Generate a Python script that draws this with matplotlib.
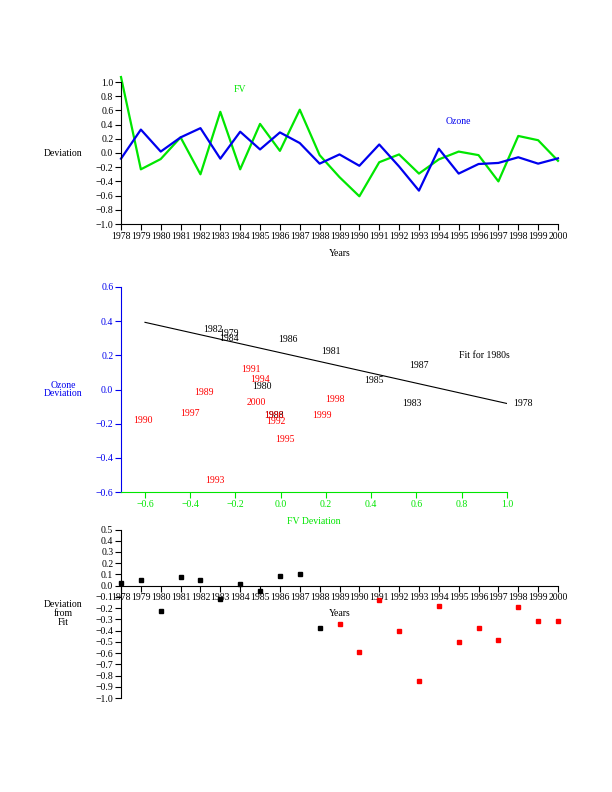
import matplotlib
matplotlib.use("Agg")
import matplotlib.pyplot as plt

plt.rcParams['font.family'] = ['Liberation Serif', 'DejaVu Serif']
plt.rcParams['axes.unicode_minus'] = True

# ---- data ----
years = list(range(1978, 2001))
fv_dev = [1.07, -0.23, -0.085, 0.22, -0.30, 0.58, -0.23, 0.41, 0.03, 0.61, -0.03,
          -0.34, -0.61, -0.13, -0.02, -0.29, -0.09, 0.02, -0.03, -0.40, 0.24, 0.18, -0.11]
ozone_dev = [-0.08, 0.33, 0.02, 0.22, 0.35, -0.08, 0.30, 0.05, 0.29, 0.14, -0.15,
             -0.02, -0.18, 0.12, -0.19, -0.53, 0.06, -0.29, -0.155, -0.14, -0.06, -0.15, -0.075]
fit_residual = [0.022, 0.052, -0.227, 0.076, 0.049, -0.117, 0.013, -0.049, 0.085, 0.102, -0.378,
                -0.343, -0.592, -0.129, -0.405, -0.85, -0.182, -0.503, -0.378, -0.485, -0.191, -0.316, -0.316]
fit_x = [-0.6, 1.0]
fit_slope = -0.297
fit_intercept = 0.215
split_year = 1988

GREEN = '#00e600'
BLUE = '#0000ee'
RED = '#ff0000'
FS = 7

W, H = 612, 792
fig = plt.figure(figsize=(W / 100, H / 100), dpi=100)


def axes_px(left, top, right, bottom):
    return fig.add_axes([left / W, 1 - bottom / H, (right - left) / W, (bottom - top) / H])


# ---------------- top panel ----------------
ax1 = axes_px(121, 82, 558, 224)
ax1.plot(years, fv_dev, color=GREEN, lw=1.6, clip_on=False)
ax1.plot(years, ozone_dev, color=BLUE, lw=1.6, clip_on=False)
ax1.set_xlim(1978, 2000)
ax1.set_ylim(-1.0, 1.0)
ax1.set_xticks(years)
ax1.set_xticklabels([str(y) for y in years])
ax1.set_yticks([round(-1.0 + 0.2 * i, 1) for i in range(11)])
ax1.set_yticklabels([f"{-1.0 + 0.2 * i:.1f}".replace('-', '\u2212') for i in range(11)])
ax1.text(1984, 0.89, 'FV', color=GREEN, fontsize=FS, ha='center', va='center')
ax1.text(1995, 0.44, 'Ozone', color=BLUE, fontsize=FS, ha='center', va='center')
ax1.set_ylabel('Deviation', rotation=0, ha='center', va='center', fontsize=FS)
ax1.yaxis.set_label_coords((63 - 121) / 437, 0.5)
ax1.set_xlabel('Years', fontsize=FS)
ax1.xaxis.set_label_coords(0.5, (224 - 253) / 142)
ax1.xaxis.label.set_va('center')

# ---------------- middle panel ----------------
ax2 = axes_px(121, 287, 507, 492)
for y, x, o in zip(years, fv_dev, ozone_dev):
    ax2.text(x, o, str(y), color=('black' if y <= split_year else RED),
             fontsize=FS, ha='center', va='center')
ax2.plot(fit_x, [fit_intercept + fit_slope * v for v in fit_x], color='black', lw=0.8)
ax2.text(0.9, 0.2, 'Fit for 1980s', fontsize=FS, ha='center', va='center')
ax2.set_xlim(-0.706, 1.0)
ax2.set_ylim(-0.6, 0.6)
ax2.set_xticks([round(-0.6 + 0.2 * i, 1) for i in range(9)])
ax2.set_xticklabels([f"{-0.6 + 0.2 * i:.1f}".replace('-', '\u2212') for i in range(9)])
ax2.set_yticks([round(-0.6 + 0.2 * i, 1) for i in range(7)])
ax2.set_yticklabels([f"{-0.6 + 0.2 * i:.1f}".replace('-', '\u2212') for i in range(7)])
ax2.spines['left'].set_color(BLUE)
ax2.spines['bottom'].set_color(GREEN)
ax2.tick_params(axis='y', colors=BLUE)
ax2.tick_params(axis='x', colors=GREEN)
ax2.set_ylabel('Ozone\nDeviation', rotation=0, ha='center', va='center', fontsize=FS,
               color=BLUE, linespacing=1.0)
ax2.yaxis.set_label_coords((63 - 121) / 386, 0.5)
ax2.set_xlabel('FV Deviation', fontsize=FS, color=GREEN)
ax2.xaxis.set_label_coords(0.5, (492 - 522) / 205)
ax2.xaxis.label.set_va('center')

# ---------------- bottom panel ----------------
ax3 = axes_px(121, 529.5, 558, 698)
for y, r in zip(years, fit_residual):
    ax3.plot(y, r, marker='s', ms=3.2, ls='none', clip_on=False,
             color=('black' if y <= split_year else RED))
ax3.set_xlim(1978, 2000)
ax3.set_ylim(-1.0, 0.5)
ax3.spines['bottom'].set_position(('data', 0))
ax3.set_xticks(years)
ax3.set_xticklabels([str(y) for y in years])
yt = [round(-1.0 + 0.1 * i, 1) for i in range(16)]
ax3.set_yticks(yt)
ax3.set_yticklabels([f"{v:.1f}".replace('-', '\u2212') for v in yt])
ax3.set_ylabel('Deviation\nfrom\nFit', rotation=0, ha='center', va='center', fontsize=FS,
               linespacing=1.0)
ax3.yaxis.set_label_coords((63 - 121) / 437, 0.5)
ax3.set_xlabel('Years', fontsize=FS)
ax3.xaxis.set_label_coords(0.5, (698 - 614) / 168.5)
ax3.xaxis.label.set_va('center')

for ax in (ax1, ax2, ax3):
    ax.spines['top'].set_visible(False)
    ax.spines['right'].set_visible(False)
    ax.tick_params(labelsize=FS, length=4, width=0.8, pad=1.5)
    ax.patch.set_visible(False)

fig.savefig('out.png', dpi=100)
